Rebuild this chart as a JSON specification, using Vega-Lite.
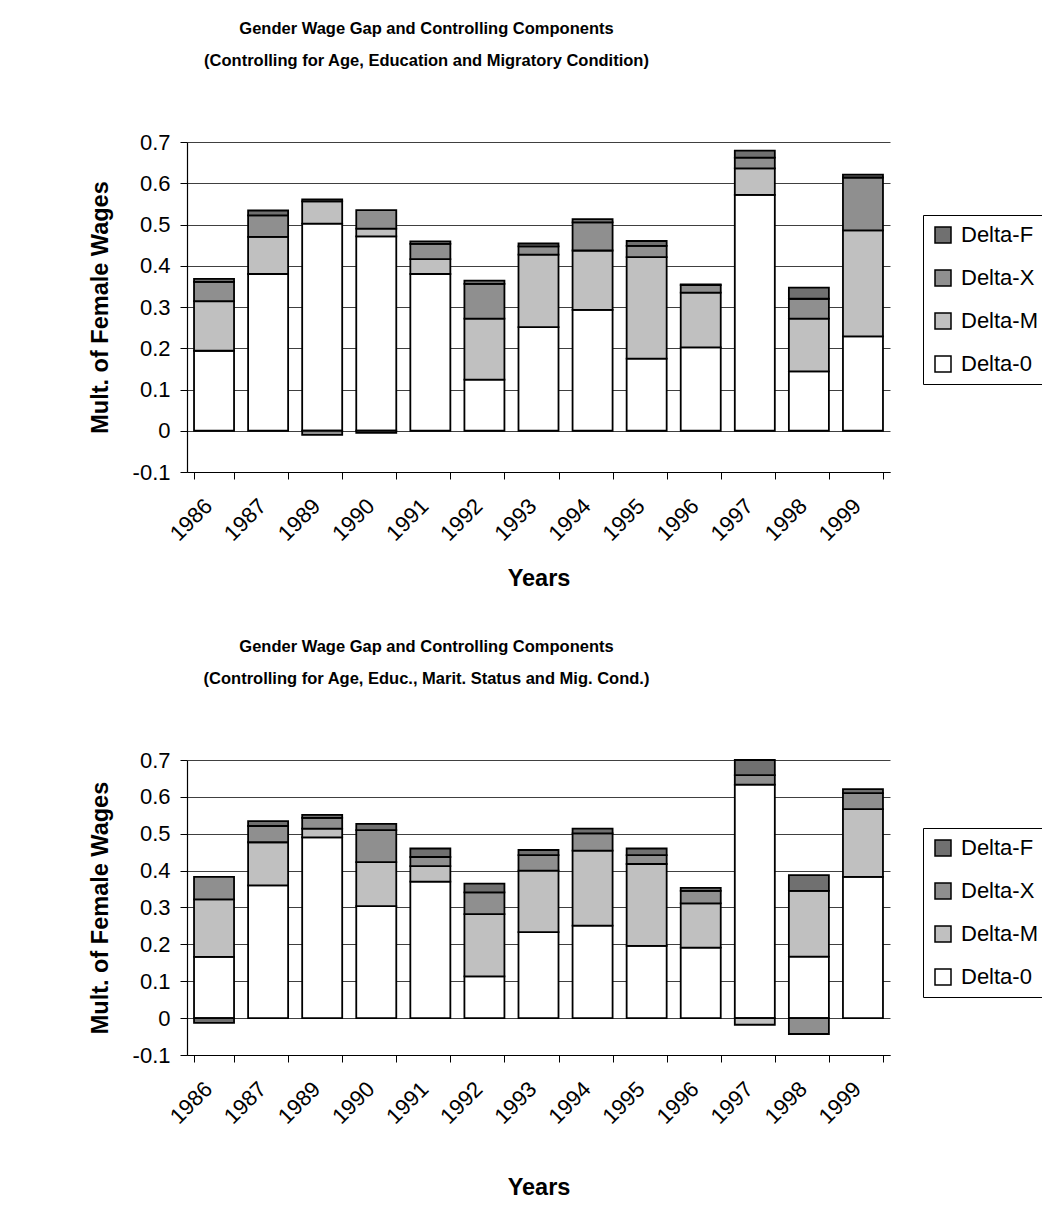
{
  "$schema": "https://vega.github.io/schema/vega-lite/v6.json",
  "padding": {"left": 88, "top": 20, "right": 0, "bottom": 0},
  "background": "white",
  "spacing": 48,
  "resolve": {"scale": {"color": "independent"}, "legend": {"color": "independent"}},
  "config": {
    "font": "Liberation Sans",
    "view": {"stroke": null},
    "axis": {"labelColor": "#000", "titleColor": "#000", "domainColor": "#000", "tickColor": "#000", "labelFont": "Liberation Sans", "titleFont": "Liberation Sans", "titleFontWeight": "bold", "titleFontSize": 23.5},
    "title": {"font": "Liberation Sans", "fontSize": 16.5, "fontWeight": "bold", "color": "#000", "lineHeight": 32, "frame": "group", "anchor": "middle", "dx": -112},
    "legend": {"strokeColor": "#000", "fillColor": "#fff", "padding": 9, "symbolType": "square", "symbolSize": 256, "symbolStrokeColor": "#000", "symbolStrokeWidth": 1.5, "labelFontSize": 22, "labelFont": "Liberation Sans", "labelColor": "#000", "labelOffset": 7, "rowPadding": 21, "orient": "none"}
  },
  "datasets": {
    "ranks": [
      {"component": "Delta-0", "stackRank": 1}, {"component": "Delta-M", "stackRank": 2}, {"component": "Delta-X", "stackRank": 3}, {"component": "Delta-F", "stackRank": 4}
    ],
    "a": [
      {"year": "1986", "component": "Delta-0", "value": 0.194}, {"year": "1986", "component": "Delta-M", "value": 0.120}, {"year": "1986", "component": "Delta-X", "value": 0.047}, {"year": "1986", "component": "Delta-F", "value": 0.007},
      {"year": "1987", "component": "Delta-0", "value": 0.380}, {"year": "1987", "component": "Delta-M", "value": 0.090}, {"year": "1987", "component": "Delta-X", "value": 0.052}, {"year": "1987", "component": "Delta-F", "value": 0.012},
      {"year": "1989", "component": "Delta-0", "value": 0.502}, {"year": "1989", "component": "Delta-M", "value": 0.054}, {"year": "1989", "component": "Delta-X", "value": -0.010}, {"year": "1989", "component": "Delta-F", "value": 0.005},
      {"year": "1990", "component": "Delta-0", "value": 0.471}, {"year": "1990", "component": "Delta-M", "value": 0.019}, {"year": "1990", "component": "Delta-X", "value": 0.045}, {"year": "1990", "component": "Delta-F", "value": -0.005},
      {"year": "1991", "component": "Delta-0", "value": 0.380}, {"year": "1991", "component": "Delta-M", "value": 0.036}, {"year": "1991", "component": "Delta-X", "value": 0.037}, {"year": "1991", "component": "Delta-F", "value": 0.006},
      {"year": "1992", "component": "Delta-0", "value": 0.124}, {"year": "1992", "component": "Delta-M", "value": 0.148}, {"year": "1992", "component": "Delta-X", "value": 0.084}, {"year": "1992", "component": "Delta-F", "value": 0.008},
      {"year": "1993", "component": "Delta-0", "value": 0.251}, {"year": "1993", "component": "Delta-M", "value": 0.176}, {"year": "1993", "component": "Delta-X", "value": 0.020}, {"year": "1993", "component": "Delta-F", "value": 0.007},
      {"year": "1994", "component": "Delta-0", "value": 0.293}, {"year": "1994", "component": "Delta-M", "value": 0.144}, {"year": "1994", "component": "Delta-X", "value": 0.068}, {"year": "1994", "component": "Delta-F", "value": 0.008},
      {"year": "1995", "component": "Delta-0", "value": 0.175}, {"year": "1995", "component": "Delta-M", "value": 0.246}, {"year": "1995", "component": "Delta-X", "value": 0.027}, {"year": "1995", "component": "Delta-F", "value": 0.012},
      {"year": "1996", "component": "Delta-0", "value": 0.202}, {"year": "1996", "component": "Delta-M", "value": 0.133}, {"year": "1996", "component": "Delta-X", "value": 0.018}, {"year": "1996", "component": "Delta-F", "value": 0.002},
      {"year": "1997", "component": "Delta-0", "value": 0.572}, {"year": "1997", "component": "Delta-M", "value": 0.064}, {"year": "1997", "component": "Delta-X", "value": 0.026}, {"year": "1997", "component": "Delta-F", "value": 0.017},
      {"year": "1998", "component": "Delta-0", "value": 0.144}, {"year": "1998", "component": "Delta-M", "value": 0.128}, {"year": "1998", "component": "Delta-X", "value": 0.048}, {"year": "1998", "component": "Delta-F", "value": 0.027},
      {"year": "1999", "component": "Delta-0", "value": 0.229}, {"year": "1999", "component": "Delta-M", "value": 0.257}, {"year": "1999", "component": "Delta-X", "value": 0.128}, {"year": "1999", "component": "Delta-F", "value": 0.007}
    ],
    "b": [
      {"year": "1986", "component": "Delta-0", "value": 0.166}, {"year": "1986", "component": "Delta-M", "value": 0.156}, {"year": "1986", "component": "Delta-X", "value": 0.061}, {"year": "1986", "component": "Delta-F", "value": -0.013},
      {"year": "1987", "component": "Delta-0", "value": 0.360}, {"year": "1987", "component": "Delta-M", "value": 0.117}, {"year": "1987", "component": "Delta-X", "value": 0.044}, {"year": "1987", "component": "Delta-F", "value": 0.013},
      {"year": "1989", "component": "Delta-0", "value": 0.490}, {"year": "1989", "component": "Delta-M", "value": 0.024}, {"year": "1989", "component": "Delta-X", "value": 0.029}, {"year": "1989", "component": "Delta-F", "value": 0.008},
      {"year": "1990", "component": "Delta-0", "value": 0.304}, {"year": "1990", "component": "Delta-M", "value": 0.119}, {"year": "1990", "component": "Delta-X", "value": 0.087}, {"year": "1990", "component": "Delta-F", "value": 0.017},
      {"year": "1991", "component": "Delta-0", "value": 0.370}, {"year": "1991", "component": "Delta-M", "value": 0.042}, {"year": "1991", "component": "Delta-X", "value": 0.025}, {"year": "1991", "component": "Delta-F", "value": 0.023},
      {"year": "1992", "component": "Delta-0", "value": 0.113}, {"year": "1992", "component": "Delta-M", "value": 0.169}, {"year": "1992", "component": "Delta-X", "value": 0.059}, {"year": "1992", "component": "Delta-F", "value": 0.024},
      {"year": "1993", "component": "Delta-0", "value": 0.233}, {"year": "1993", "component": "Delta-M", "value": 0.167}, {"year": "1993", "component": "Delta-X", "value": 0.042}, {"year": "1993", "component": "Delta-F", "value": 0.014},
      {"year": "1994", "component": "Delta-0", "value": 0.251}, {"year": "1994", "component": "Delta-M", "value": 0.203}, {"year": "1994", "component": "Delta-X", "value": 0.047}, {"year": "1994", "component": "Delta-F", "value": 0.013},
      {"year": "1995", "component": "Delta-0", "value": 0.196}, {"year": "1995", "component": "Delta-M", "value": 0.222}, {"year": "1995", "component": "Delta-X", "value": 0.024}, {"year": "1995", "component": "Delta-F", "value": 0.018},
      {"year": "1996", "component": "Delta-0", "value": 0.191}, {"year": "1996", "component": "Delta-M", "value": 0.120}, {"year": "1996", "component": "Delta-X", "value": 0.034}, {"year": "1996", "component": "Delta-F", "value": 0.008},
      {"year": "1997", "component": "Delta-0", "value": 0.633}, {"year": "1997", "component": "Delta-M", "value": -0.018}, {"year": "1997", "component": "Delta-X", "value": 0.026}, {"year": "1997", "component": "Delta-F", "value": 0.041},
      {"year": "1998", "component": "Delta-0", "value": 0.167}, {"year": "1998", "component": "Delta-M", "value": 0.178}, {"year": "1998", "component": "Delta-X", "value": -0.043}, {"year": "1998", "component": "Delta-F", "value": 0.043},
      {"year": "1999", "component": "Delta-0", "value": 0.383}, {"year": "1999", "component": "Delta-M", "value": 0.184}, {"year": "1999", "component": "Delta-X", "value": 0.043}, {"year": "1999", "component": "Delta-F", "value": 0.011}
    ]
  },
  "vconcat": [
    {
      "title": {"text": ["Gender Wage Gap and Controlling Components", "(Controlling for Age, Education and Migratory Condition)"], "offset": 62},
      "data": {"name": "a"},
      "transform": [{"lookup": "component", "from": {"data": {"name": "ranks"}, "key": "component", "fields": ["stackRank"]}}],
      "width": 703,
      "height": 330,
      "mark": {"type": "bar", "stroke": "#000", "strokeWidth": 1.8},
      "encoding": {
        "x": {"field": "year", "type": "nominal", "scale": {"paddingInner": 0.26, "paddingOuter": 0.13},
          "axis": {"title": "Years", "labelAngle": -45, "labelFontSize": 22, "labelOffset": -13, "tickBand": "extent", "tickSize": 7, "labelPadding": 16, "titlePadding": 22, "domainWidth": 1.2, "grid": false}},
        "y": {"field": "value", "type": "quantitative", "stack": "zero", "scale": {"domain": [-0.1, 0.7], "nice": false},
          "axis": {"title": "Mult. of Female Wages", "values": [-0.1, 0, 0.1, 0.2, 0.3, 0.4, 0.5, 0.6, 0.7], "format": ".1~f", "labelExpr": "replace(datum.label, '\u2212', '-')", "labelFontSize": 22, "tickSize": 7, "labelPadding": 10, "titlePadding": 20, "grid": true, "gridColor": "#404040", "gridWidth": 1.2, "domainWidth": 1.2}},
        "order": {"field": "stackRank", "type": "quantitative", "sort": "ascending"},
        "color": {"field": "component", "type": "nominal", "sort": ["Delta-F", "Delta-X", "Delta-M", "Delta-0"],
          "scale": {"domain": ["Delta-F", "Delta-X", "Delta-M", "Delta-0"], "range": ["#707070", "#8f8f8f", "#c0c0c0", "#ffffff"]},
          "legend": {"title": null, "legendX": 736, "legendY": 73}}
      }
    },
    {
      "title": {"text": ["Gender Wage Gap and Controlling Components", "(Controlling for Age, Educ., Marit. Status and Mig. Cond.)"], "offset": 62},
      "data": {"name": "b"},
      "transform": [{"lookup": "component", "from": {"data": {"name": "ranks"}, "key": "component", "fields": ["stackRank"]}}],
      "width": 703,
      "height": 295,
      "mark": {"type": "bar", "stroke": "#000", "strokeWidth": 1.8},
      "encoding": {
        "x": {"field": "year", "type": "nominal", "scale": {"paddingInner": 0.26, "paddingOuter": 0.13},
          "axis": {"title": "Years", "labelAngle": -45, "labelFontSize": 22, "labelOffset": -13, "tickBand": "extent", "tickSize": 7, "labelPadding": 16, "titlePadding": 48, "domainWidth": 1.2, "grid": false}},
        "y": {"field": "value", "type": "quantitative", "stack": "zero", "scale": {"domain": [-0.1, 0.7], "nice": false},
          "axis": {"title": "Mult. of Female Wages", "values": [-0.1, 0, 0.1, 0.2, 0.3, 0.4, 0.5, 0.6, 0.7], "format": ".1~f", "labelExpr": "replace(datum.label, '\u2212', '-')", "labelFontSize": 22, "tickSize": 7, "labelPadding": 10, "titlePadding": 20, "grid": true, "gridColor": "#404040", "gridWidth": 1.2, "domainWidth": 1.2}},
        "order": {"field": "stackRank", "type": "quantitative", "sort": "ascending"},
        "color": {"field": "component", "type": "nominal", "sort": ["Delta-F", "Delta-X", "Delta-M", "Delta-0"],
          "scale": {"domain": ["Delta-F", "Delta-X", "Delta-M", "Delta-0"], "range": ["#707070", "#8f8f8f", "#c0c0c0", "#ffffff"]},
          "legend": {"title": null, "legendX": 736, "legendY": 68}}
      }
    }
  ]
}
